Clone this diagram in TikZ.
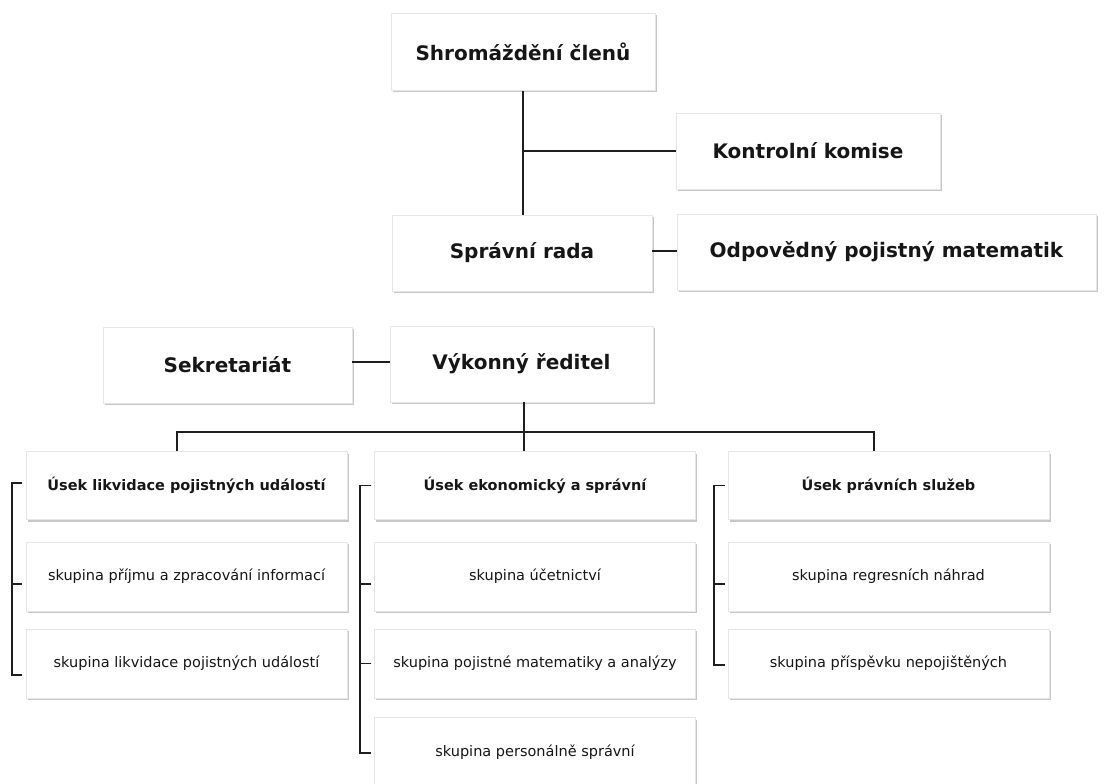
\documentclass[tikz,border=0pt]{standalone}
\usepackage{fontspec}
\setmainfont{DejaVu Sans}
\usetikzlibrary{calc, shadows}
\definecolor{Ink}  {HTML}{161616}
\definecolor{Edge} {HTML}{E6E6E6}
\definecolor{Wire} {HTML}{1E1E1E}
\tikzset{
  orgbox/.style args={#1/#2}{
    rectangle, draw=Edge, fill=white, text=Ink,
    font=\fontsize{20}{24}\selectfont\bfseries, align=center,
    inner sep=0pt, minimum width=#1pt, minimum height=#2pt,
    line width=0.5pt,
    drop shadow={shadow xshift=1.5pt, shadow yshift=-2pt,
                 fill=black, opacity=0.22},
  },
  unitbox/.style={
    orgbox=321/68,
    font=\fontsize{14.5}{17}\selectfont\bfseries,
  },
  grpbox/.style={
    orgbox=321/69,
    font=\fontsize{14.5}{17}\selectfont,
  },
  conn/.style={
    draw=Wire, line width=1.6pt,
  },
}
\begin{document}
\begin{tikzpicture}[x=1pt,y=-1pt]
  \fill[white] (0,0) rectangle (1109,784);
  \useasboundingbox (0,0) rectangle (1109,784);

  % top of the chart
  \node[orgbox=264/77] (snem)  at (523,52)    {Shromáždění členů};
  \node[orgbox=264/76] (kk)    at (808,151)   {Kontrolní komise};
  \node[orgbox=260/76] (sr)    at (522,253)   {Správní rada};
  \node[orgbox=419/76] (opm)   at (886.5,252) {Odpovědný pojistný matematik};
  \node[orgbox=249/76] (sekr)  at (227.5,365) {Sekretariát};
  \node[orgbox=263/76] (vr)    at (521.5,364) {Výkonný ředitel};

  \draw[conn] (snem.south) -- (snem.south |- sr.north);
  \draw[conn] (snem.south |- kk.west) -- (kk.west);
  \draw[conn] ($(sr.east)+(0,-2)$) -- ($(opm.west)+(0,-1)$);
  \draw[conn] ($(sekr.east)+(0,-3)$) -- ($(vr.west)+(0,-2)$);

  % sections
  \node[unitbox] (u1) at (186.5,485.5) {Úsek likvidace pojistných událostí};
  \node[unitbox] (u2) at (535,485.5)   {Úsek ekonomický a správní};
  \node[unitbox] (u3) at (888.5,485.5) {Úsek právních služeb};

  \node[grpbox] (g11) at (186.5,576.5) {skupina příjmu a zpracování informací};
  \node[grpbox] (g12) at (186.5,663.5) {skupina likvidace pojistných událostí};
  \node[grpbox] (g21) at (535,576.5)   {skupina účetnictví};
  \node[grpbox] (g22) at (535,663.5)   {skupina pojistné matematiky a analýzy};
  \node[grpbox] (g23) at (535,752)     {skupina personálně správní};
  \node[grpbox] (g31) at (888.5,576.5) {skupina regresních náhrad};
  \node[grpbox] (g32) at (888.5,663.5) {skupina příspěvku nepojištěných};

  \coordinate (busL) at (177,432);
  \coordinate (busR) at (874,432);
  \draw[conn] ($(vr.south)+(2.5,0)$) -- ($(vr.south |- u2.north)+(2.5,0)$);
  \draw[conn] (busL |- u1.north) -- (busL) -- (busR) -- (busR |- u3.north);

  % brackets on the left of each column
  \draw[conn] ($(u1.west)+(-4,-2.5)$) -- ++(-10,0) |- ($(g12.west)+(-4,11.5)$);
  \draw[conn] ($(g11.west)+(-4,7.5)$) -- ++(-10,0);

  \draw[conn] ($(u2.west)+(-3,0)$) -- ++(-11,0) |- ($(g23.west)+(-3,1)$);
  \draw[conn] ($(g21.west)+(-3,7.5)$) -- ++(-11,0);
  \draw[conn] ($(g22.west)+(-3,0)$) -- ++(-11,0);

  \draw[conn] ($(u3.west)+(-3,0)$) -- ++(-11,0) |- ($(g32.west)+(-3,1.5)$);
  \draw[conn] ($(g31.west)+(-3,7.5)$) -- ++(-11,0);
\end{tikzpicture}
\end{document}
